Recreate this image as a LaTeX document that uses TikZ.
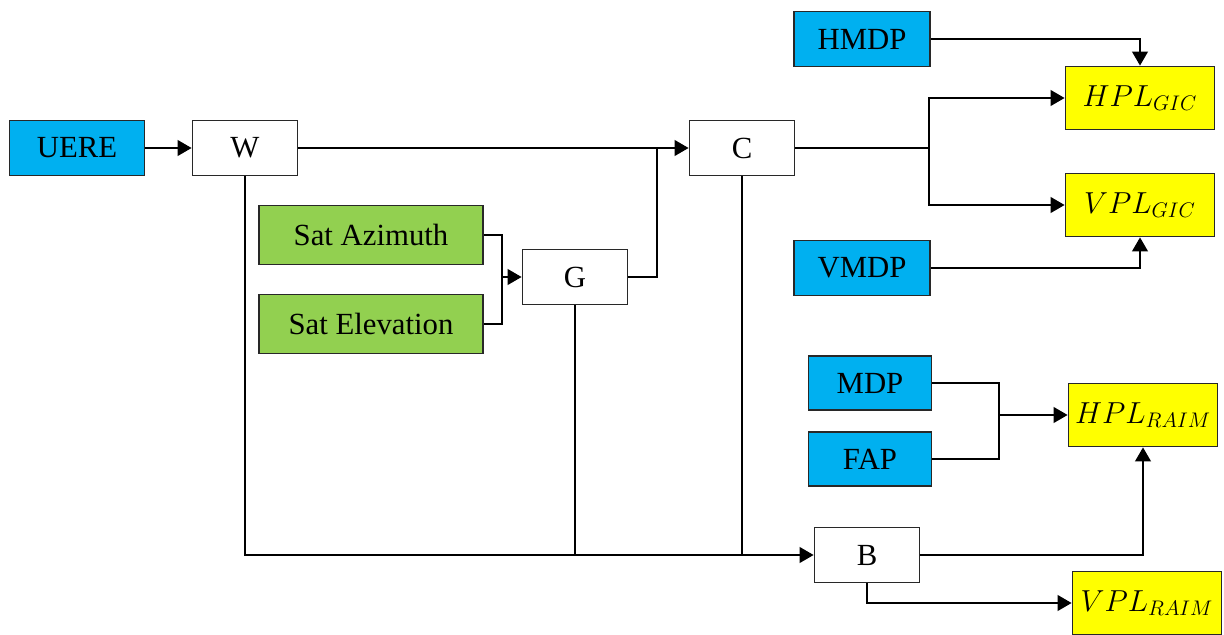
\documentclass[tikz,border=0pt]{standalone}
\usepackage{fontspec}
\setmainfont{Liberation Serif}
\usetikzlibrary{arrows.meta, positioning, calc}
\definecolor{blkInput}{RGB}{0,176,240}
\definecolor{blkSat}{RGB}{146,208,80}
\definecolor{blkOut}{RGB}{255,255,0}
\definecolor{blkEdge}{RGB}{40,40,40}
\tikzset{
  % plain rectangular block; the fill is given by the styles below
  box/.style={
    draw=blkEdge, line width=1pt, align=center, inner sep=2pt,
    font=\fontsize{17.5}{20}\selectfont, minimum height=1.1cm
  },
  op/.style={box, fill=white, minimum width=2.1cm},
  inbox/.style={box, fill=blkInput, minimum width=2.72cm},
  smallin/.style={box, fill=blkInput, minimum width=2.46cm, minimum height=1.08cm},
  satbox/.style={box, fill=blkSat, minimum width=4.48cm, minimum height=1.18cm},
  outbox/.style={box, fill=blkOut, minimum width=2.98cm, minimum height=1.26cm},
  % connectors
  wire/.style={draw=black, line width=1.4pt},
  flow/.style={wire, -{Triangle[length=2.8mm,width=3.1mm]}},
}

\begin{document}
\begin{tikzpicture}[x=0.02cm, y=-0.02cm]
\useasboundingbox (0,0) rectangle (1224,635);

% ------------------------------- left part ---------------------------------
\node[inbox, minimum width=2.7cm] (uere) at (77,148) {UERE};
\node[op] (w) at (245,148) {W};
\node[op] (c) at (742,148) {C};
\node[satbox] (az) at (371,235) {Sat Azimuth};
\node[satbox] (el) at (371,324) {Sat Elevation};
\node[op] (g) at (575,277) {G};

% ------------------------------- GIC outputs -------------------------------
\node[inbox] (hmdp) at (862,39) {HMDP};
\node[inbox] (vmdp) at (862,268) {VMDP};
\node[outbox] (hplg) at (1140,98) {$HPL_{GIC}$};
\node[outbox] (vplg) at (1140,205) {$VPL_{GIC}$};

% ------------------------------- RAIM outputs ------------------------------
\node[smallin] (mdp) at (870,383) {MDP};
\node[smallin] (fap) at (870,459) {FAP};
\node[outbox] (hplr) at (1143,415) {$HPL_{RAIM}$};
\node[op] (b) at (867,555) {B};
\node[outbox] (vplr) at (1147,603) {$VPL_{RAIM}$};

% ------------------------------- joints ------------------------------------
\coordinate (gjoin) at (502,277);
\coordinate (cjoin) at (657,148);
\coordinate (cfork) at (929,148);
\coordinate (rjoin) at (999,415);

% ------------------------------- connectors --------------------------------
\draw[flow] (uere) -- (w);
\draw[flow] (w) -- (c);
\draw[wire] (az.east) -| (gjoin) |- (el.east);
\draw[flow] (gjoin) -- (g);
\draw[wire] (g.east) -| (cjoin);

\draw[wire] (c.east) -- (cfork);
\draw[flow] (cfork) |- (hplg.west);
\draw[flow] (cfork) |- (vplg.west);
\draw[flow] (hmdp) -| (hplg.north);
\draw[flow] (vmdp) -| (vplg.south);

\draw[wire] (mdp.east) -| (rjoin) |- (fap.east);
\draw[flow] (rjoin) -- (hplr);

\draw[flow] (w.south) |- (b.west);
\draw[wire] (g.south) -- (g.south |- b.west);
\draw[wire] (c.south) -- (c.south |- b.west);
\draw[flow] (b.east) -| (hplr.south);
\draw[flow] (b.south) |- (vplr.west);

\end{tikzpicture}
\end{document}
